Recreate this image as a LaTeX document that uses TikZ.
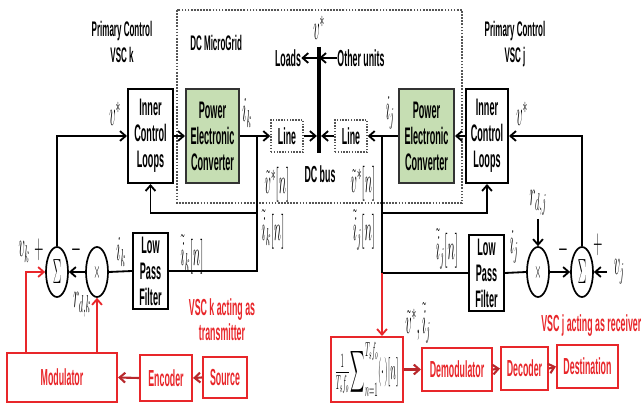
\documentclass[tikz,border=0pt]{standalone}
\usepackage{fontspec}
\usepackage{amsmath}
\usepackage{graphicx}
\usetikzlibrary{arrows.meta,shapes.geometric}
\newfontfamily\narrowsf{Liberation Sans}[FakeStretch=0.38]
\definecolor{vscred}{HTML}{E8262A}
\definecolor{vscdarkred}{HTML}{B8282C}
\definecolor{pecgreen}{HTML}{C6DEB3}
\definecolor{gridgray}{HTML}{555555}
\newcommand{\mlab}[1]{\scalebox{0.36}[1]{$#1$}}
\tikzset{
  blk/.style={draw, line width=1.4pt, fill=white, align=center, inner sep=0pt,
    minimum height=2.35cm, font=\narrowsf\bfseries\fontsize{17}{18.5}\selectfont},
  pec/.style={blk, fill=pecgreen, draw=black!80},
  lpf/.style={blk, minimum width=0.875cm, minimum height=1.9cm},
  linebox/.style={draw=gridgray, densely dotted, line width=1pt, minimum width=0.8cm,
    minimum height=0.8cm, inner sep=0pt, font=\narrowsf\bfseries\fontsize{16.5}{18}\selectfont},
  opnode/.style={ellipse, draw, line width=1.2pt, minimum width=0.55cm, minimum height=1.25cm,
    inner sep=0pt, font=\fontsize{26}{26}\selectfont},
  redbox/.style={draw=vscred, line width=1.4pt, text=vscred, inner sep=0pt, align=center,
    font=\narrowsf\bfseries\fontsize{16.5}{18}\selectfont},
  lbl/.style={align=center, inner sep=0pt, font=\narrowsf\bfseries\fontsize{15}{18}\selectfont},
  redlbl/.style={lbl, text=vscred, font=\narrowsf\bfseries\fontsize{16.5}{18}\selectfont},
  mth/.style={inner sep=0pt, font=\fontsize{26}{26}\selectfont},
  arr/.style={-{Straight Barb[length=4pt,width=7pt]}, line width=1.3pt},
  wire/.style={line width=1.3pt},
  rarr/.style={arr, draw=vscred},
  darr/.style={arr, draw=vscdarkred, line width=1.5pt}
}

\begin{document}
\begin{tikzpicture}[x=0.025cm,y=-0.025cm]
  \useasboundingbox (0,0) rectangle (641,405);
  % DC microgrid area
  \draw[gridgray, densely dotted, line width=1.2pt] (177,10) rectangle (462,203);
  \node[lbl, anchor=west] (mgtitle) at (190,43) {DC MicroGrid};
  \node[lbl] (pck) at (122,42) {Primary Control\\VSC k};
  \node[lbl] (pcj) at (515,44) {Primary Control\\VSC j};

  \node[blk, minimum width=1.125cm] (ick) at (150.5,136) {Inner\\Control\\Loops};
  \node[pec, minimum width=1.325cm] (peck) at (212.5,136) {Power\\Electronic\\Converter};
  \node[linebox] (linek) at (287,136) {Line};
  \node[linebox] (linej) at (351,136) {Line};
  \node[pec, minimum width=1.375cm] (pecj) at (426.5,136) {Power\\Electronic\\Converter};
  \node[blk, minimum width=1.05cm] (icj) at (487,136) {Inner\\Control\\Loops};

  % DC bus
  \coordinate (bustop) at (319,47);
  \coordinate (busbot) at (319,153);
  \coordinate (busin) at (319,136);
  \coordinate (busld) at (319,58);
  \draw[line width=3.2pt] (bustop) -- (busbot);
  \node[lbl, font=\narrowsf\bfseries\fontsize{16.5}{18}\selectfont] (dcbus) at (320,174) {DC bus};
  \node[lbl, font=\narrowsf\bfseries\fontsize{16.5}{18}\selectfont] (loads) at (288,58) {Loads};
  \node[lbl, font=\narrowsf\bfseries\fontsize{16.5}{18}\selectfont] (other) at (361,58) {Other units};
  \draw[arr] (busld) -- (loads.east);
  \draw[arr] (other.west) -- (busld);
  \draw[arr, shorten >=1.5pt] (linek.east) -- (busin);
  \draw[arr, shorten >=1.5pt] (linej.west) -- (busin);
  \draw[arr] (ick.east) -- (peck.west);
  \draw[arr] (peck.east) -- (linek.west);
  \draw[arr] (pecj.west) -- (linej.east);
  \draw[arr] (icj.west) -- (pecj.east);

  % VSC k loop
  \node[lpf] (lpfk) at (150.5,271) {Low\\Pass\\Filter};
  \node[opnode] (mulk) at (97,272) {\mlab{\scriptstyle\times}};
  \node[opnode] (sumk) at (57,272) {\mlab{\Sigma}};
  \coordinate (tapk) at (257,136);
  \coordinate (fbk) at (257,213);
  \draw[wire] (tapk) |- (lpfk.east);
  \draw[arr] (fbk) -| (ick.south);
  \draw[wire] (lpfk.west) -- (mulk.east);
  \draw[arr] (mulk.west) -- (sumk.east);
  \draw[arr] (sumk.north) |- (ick.west);

  % VSC j loop
  \node[lpf] (lpfj) at (486.5,273) {Low\\Pass\\Filter};
  \node[opnode] (mulj) at (538,272) {\mlab{\scriptstyle\times}};
  \node[opnode] (sumj) at (582,272) {\mlab{\Sigma}};
  \coordinate (tapj) at (382,136);
  \coordinate (fbj) at (382,213);
  \coordinate (lpfjin) at (382,273);
  \draw[wire] (tapj) -- (lpfjin) -- (lpfj.west);
  \draw[arr] (fbj) -| (icj.south);
  \draw[wire] (lpfj.east) -- (mulj.west);
  \draw[arr] (mulj.east) -- (sumj.west);
  \draw[arr] (sumj.north) |- (icj.east);
  \node[mth] (rdj) at (538,203) {\mlab{r_{d,j}}};
  \coordinate (rdjs) at (538,219);
  \draw[arr] (rdjs) -- (mulj.north);
  \node[mth] (vj) at (619,272) {\mlab{v_j}};
  \coordinate (vjw) at (607,272);
  \draw[arr] (vjw) -- (sumj.east);

  % math labels
  \node[mth] (vtop) at (319,28) {\mlab{v^*}};
  \node[mth] (vstark) at (115,114) {\mlab{v^*}};
  \node[mth] (vstarj) at (522,114) {\mlab{v^*}};
  \node[mth] (ik) at (247,113) {\mlab{i_k}};
  \node[mth] (ij) at (390,113) {\mlab{i_j}};
  \node[mth] (vnk) at (277,185) {\mlab{\tilde{v}^*[n]}};
  \node[mth] (vnj) at (363,184) {\mlab{\tilde{v}^*[n]}};
  \node[mth] (inkv) at (273,229) {\mlab{\tilde{i}_k[n]}};
  \node[mth] (injv) at (364,230) {\mlab{\tilde{i}_j[n]}};
  \node[mth] (inkl) at (192,254) {\mlab{\tilde{i}_k[n]}};
  \node[mth] (injl) at (447,249) {\mlab{\tilde{i}_j[n]}};
  \node[mth] (ikf) at (121,252) {\mlab{i_k}};
  \node[mth] (ijf) at (514,247) {\mlab{i_j}};
  \node[mth] (minusk) at (76,250) {\mlab{-}};
  \node[mth] (plusk) at (39,250) {\mlab{+}};
  \node[mth] (vk) at (24,252) {\mlab{v_k}};
  \node[mth] (rdk) at (82,305) {\mlab{r_{d,k}}};
  \node[mth] (minusj) at (563,250) {\mlab{-}};
  \node[mth] (plusj) at (598,245) {\mlab{+}};

  % transmitter chain
  \node[redbox, minimum width=2.75cm, minimum height=1.225cm] (modk) at (62,377.5) {Modulator};
  \node[redbox, minimum width=1.3cm, minimum height=1.15cm] (enck) at (166,378) {Encoder};
  \node[redbox, minimum width=1.1cm, minimum height=1.025cm] (srck) at (225,377.5) {Source};
  \node[redlbl] (txlbl) at (222,320) {VSC k acting as\\transmitter};
  \draw[darr] (srck.west) -- (enck.east);
  \draw[darr] (enck.west) -- (modk.east);
  \coordinate (modk1) at (26,353);
  \coordinate (modk2) at (97,353);
  \draw[rarr] (modk1) |- (sumk.west);
  \draw[rarr] (modk2) -- (mulk.south);

  % receiver chain
  \node[redbox, minimum width=1.8cm, minimum height=1.625cm, text=black] (avgj) at (367,369.5)
    {\fontsize{22}{22}\selectfont\scalebox{0.34}[1]{$\tfrac{1}{T_sf_o}\displaystyle\sum\nolimits_{n=1}^{T_sf_o}(\cdot)[n]$}};
  \node[redbox, minimum width=1.75cm, minimum height=1.075cm] (demod) at (457,369.5) {Demodulator};
  \node[redbox, minimum width=1.175cm, minimum height=1.075cm] (dec) at (524.5,368.5) {Decoder};
  \node[redbox, minimum width=1.525cm, minimum height=1.075cm] (dest) at (587.5,366.5) {Destination};
  \node[redlbl, anchor=west] (rxlbl) at (541,326) {VSC j acting as receiver};
  \node[mth] (vi) at (418,323) {\mlab{\tilde{v}^*,\tilde{i}_j}};
  \draw[rarr] (lpfjin) -- (lpfjin |- avgj.north);
  \draw[darr] (avgj.east) -- (demod.west);
  \draw[darr] (demod.east) -- (dec.west);
  \draw[darr] (dec.east) -- (dest.west);
\end{tikzpicture}
\end{document}
